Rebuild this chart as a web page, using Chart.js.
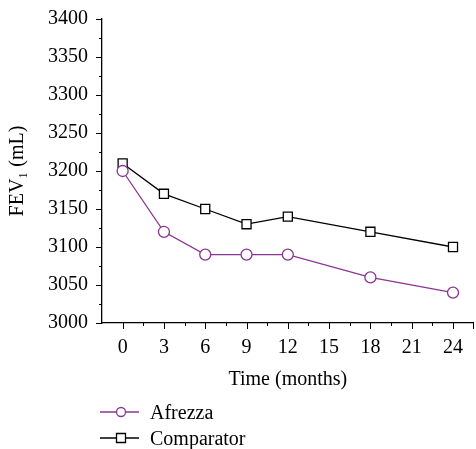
<!DOCTYPE html>
<html>
<head>
<meta charset="utf-8">
<script src="https://cdn.jsdelivr.net/npm/chart.js@4"></script>
<style>
  html, body { margin: 0; padding: 0; background: #fff; }
  #wrap { width: 476px; height: 449px; }
</style>
</head>
<body>
<div id="wrap"><canvas id="chart" width="476" height="449"></canvas></div>
<script>
var months = [0, 3, 6, 9, 12, 18, 24];
var afrezza = [3200, 3120, 3090, 3090, 3090, 3060, 3040];
var comparator = [3210, 3170, 3150, 3130, 3140, 3120, 3100];
var seriesNames = ['Afrezza', 'Comparator'];

var PURPLE = '#8b3493';
var FONT = '"Liberation Serif", "DejaVu Serif", serif';

function toPoints(xs, ys) {
  return xs.map(function (x, i) { return { x: x, y: ys[i] }; });
}

// draws outward major/minor ticks on both axes
var tickPlugin = {
  id: 'ticks',
  afterDraw: function (chart) {
    var ctx = chart.ctx;
    var xs = chart.scales.x, ys = chart.scales.y;
    var area = chart.chartArea;
    ctx.save();
    ctx.strokeStyle = '#000';
    ctx.lineWidth = 1;
    ctx.beginPath();
    for (var v = 0; v <= 24.001; v += 1.5) {
      var px = Math.round(xs.getPixelForValue(v)) + 0.5;
      var len = (v % 3 === 0) ? 6 : 3;
      ctx.moveTo(px, area.bottom);
      ctx.lineTo(px, area.bottom + len);
    }
    ctx.moveTo(Math.round(xs.getPixelForValue(25.5)) - 0.5, area.bottom);
    ctx.lineTo(Math.round(xs.getPixelForValue(25.5)) - 0.5, area.bottom + 6);
    for (var w = 3000; w <= 3400; w += 25) {
      var py = Math.round(ys.getPixelForValue(w)) + 0.5;
      var l2 = (w % 50 === 0) ? 6 : 3;
      ctx.moveTo(area.left, py);
      ctx.lineTo(area.left - l2, py);
    }
    ctx.stroke();
    ctx.restore();
  }
};

// legend below the plot: short line with the marker, then the name
var legendPlugin = {
  id: 'bottomLegend',
  afterDraw: function (chart) {
    var ctx = chart.ctx;
    ctx.save();
    ctx.font = '20px ' + FONT;
    ctx.textBaseline = 'middle';
    chart.data.datasets.forEach(function (ds, i) {
      var y = 412 + i * 26;
      ctx.strokeStyle = ds.borderColor;
      ctx.lineWidth = 1.3;
      ctx.beginPath();
      ctx.moveTo(100, y);
      ctx.lineTo(139, y);
      ctx.stroke();
      ctx.fillStyle = '#fff';
      ctx.beginPath();
      if (ds.pointStyle === 'circle') {
        ctx.arc(121, y, 4.5, 0, Math.PI * 2);
      } else {
        ctx.rect(116.5, y - 4.5, 9, 9);
      }
      ctx.fill();
      ctx.stroke();
      ctx.fillStyle = '#000';
      ctx.fillText(ds.label, 150, y + 2);
    });
    ctx.restore();
  }
};

new Chart(document.getElementById('chart').getContext('2d'), {
  type: 'line',
  data: {
    datasets: [{
      label: seriesNames[0],
      data: toPoints(months, afrezza),
      borderColor: PURPLE,
      backgroundColor: '#fff',
      borderWidth: 1.3,
      pointStyle: 'circle',
      pointRadius: 5.5,
      pointBorderWidth: 1.3,
      tension: 0
    }, {
      label: seriesNames[1],
      data: toPoints(months, comparator),
      borderColor: '#000',
      backgroundColor: '#fff',
      borderWidth: 1.3,
      pointStyle: 'rect',
      pointRadius: 6.4,
      pointBorderWidth: 1.3,
      tension: 0
    }]
  },
  options: {
    responsive: false,
    animation: false,
    layout: { autoPadding: false, padding: { top: 19, right: 0, bottom: 57, left: 0 } },
    plugins: {
      legend: { display: false },
      tooltip: { enabled: false }
    },
    scales: {
      x: {
        type: 'linear',
        min: -1.5,
        max: 25.5,
        afterBuildTicks: function (s) {
          s.ticks = [0, 3, 6, 9, 12, 15, 18, 21, 24].map(function (v) { return { value: v }; });
        },
        grid: { display: false, drawTicks: false },
        border: { display: true, color: '#000', width: 1.3 },
        ticks: { color: '#000', font: { family: FONT, size: 20 }, padding: 13, maxRotation: 0 },
        title: { display: true, text: 'Time (months)', color: '#000', font: { family: FONT, size: 20 }, padding: { top: -5, bottom: 0 } }
      },
      y: {
        min: 3000,
        max: 3400,
        afterFit: function (s) { s.paddingTop = 0; },
        ticks: {
          stepSize: 50, color: '#000', font: { family: FONT, size: 20 }, padding: 14,
          callback: function (v) { return String(v); }
        },
        grid: { display: false, drawTicks: false },
        border: { display: true, color: '#000', width: 1.3 },
        title: { display: true, text: 'FEV\u2081 (mL)', color: '#000', font: { family: FONT, size: 20 }, padding: { top: 6, bottom: 4 } }
      }
    }
  },
  plugins: [tickPlugin, legendPlugin]
});
</script>
</body>
</html>
